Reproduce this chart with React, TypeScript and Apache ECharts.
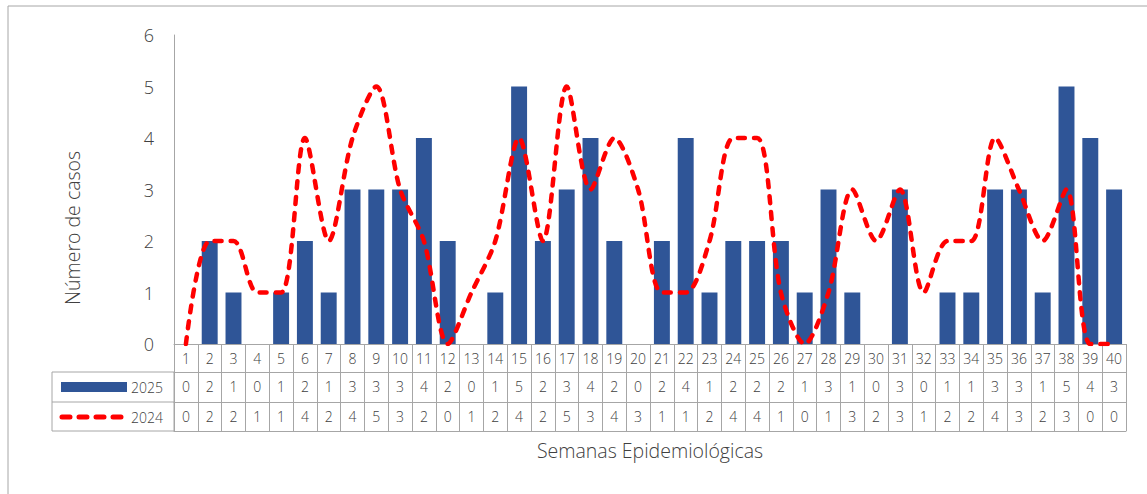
import React, { useEffect, useRef } from "react";
import * as echarts from "echarts";

const weeks: string[] = Array.from({ length: 40 }, (_, i) => String(i + 1));
const cases2025: number[] = [0, 2, 1, 0, 1, 2, 1, 3, 3, 3, 4, 2, 0, 1, 5, 2, 3, 4, 2, 0, 2, 4, 1, 2, 2, 2, 1, 3, 1, 0, 3, 0, 1, 1, 3, 3, 1, 5, 4, 3];
const cases2024: number[] = [0, 2, 2, 1, 1, 4, 2, 4, 5, 3, 2, 0, 1, 2, 4, 2, 5, 3, 4, 3, 1, 1, 2, 4, 4, 1, 0, 1, 3, 2, 3, 1, 2, 2, 4, 3, 2, 3, 0, 0];
const seriesNames = ["2025", "2024"];
const yTicks = { min: 0, max: 6, interval: 1 };

const FONT = "'Open Sans', 'Noto Sans', sans-serif";
const TXT = "#404040";
const GRID_LINE = "#A6A6A6";
const BAR = "#2F5597";
const LINE = "#FF0000";

export default function App() {
  const ref = useRef<HTMLDivElement>(null);
  useEffect(() => {
    if (!ref.current) return;
    const chart = echarts.init(ref.current, null, { renderer: "svg" });
    const label = (arr: number[] | null) => ({
      show: true,
      interval: 0,
      fontSize: 14,
      color: TXT,
      fontFamily: FONT,
      fontWeight: 300 as any,
      margin: 7,
      formatter: (v: string, i: number) => (arr ? String(arr[i]) : v),
    });
    chart.setOption({
      animation: false,
      textStyle: { fontFamily: FONT },
      grid: { left: 174, right: 21, top: 35, bottom: 150, containLabel: false },
      xAxis: [
        {
          type: "category",
          data: weeks,
          position: "bottom",
          axisLine: { show: true, lineStyle: { color: GRID_LINE, width: 1 } },
          axisTick: { show: true, interval: 0, length: 87, lineStyle: { color: GRID_LINE } },
          axisLabel: label(null),
          splitLine: { show: false },
        },
        {
          type: "category",
          data: weeks,
          position: "bottom",
          offset: 28,
          axisLine: { show: true, lineStyle: { color: GRID_LINE, width: 1 } },
          axisTick: { show: false },
          axisLabel: label(cases2025),
        },
        {
          type: "category",
          data: weeks,
          position: "bottom",
          offset: 58,
          axisLine: { show: true, lineStyle: { color: GRID_LINE, width: 1 } },
          axisTick: { show: false },
          axisLabel: label(cases2024),
        },
        {
          type: "category",
          data: weeks,
          position: "bottom",
          offset: 87,
          axisLine: { show: true, lineStyle: { color: GRID_LINE, width: 1 } },
          axisTick: { show: false },
          axisLabel: { show: false },
          name: "Semanas Epidemiológicas",
          nameLocation: "middle",
          nameGap: 9,
          nameTextStyle: { fontSize: 19.5, color: TXT, fontFamily: FONT, fontWeight: 300, verticalAlign: "top" },
        },
      ],
      yAxis: {
        type: "value",
        min: yTicks.min,
        max: yTicks.max,
        interval: yTicks.interval,
        axisLine: { show: true, lineStyle: { color: GRID_LINE, width: 1 } },
        axisTick: { show: false },
        splitLine: { show: false },
        axisLabel: { fontSize: 18, color: TXT, fontFamily: FONT, fontWeight: 300, margin: 20 },
      },
      graphic: [
        {
          type: "rect",
          shape: { x: 8, y: 6, width: 1200, height: 600 },
          style: { fill: "none", stroke: "#A6A6A6", lineWidth: 1 },
          silent: true,
          z: -1,
        },
        {
          type: "text",
          x: 72,
          y: 228,
          rotation: Math.PI / 2,
          style: { text: "Número de casos", fontSize: 19.5, fill: TXT, fontFamily: FONT, fontWeight: 300, align: "center", verticalAlign: "middle" },
          silent: true,
        },
        {
          type: "rect",
          shape: { x: 52, y: 372, width: 122, height: 59 },
          style: { fill: "none", stroke: GRID_LINE, lineWidth: 1 },
          silent: true,
        },
        {
          type: "line",
          shape: { x1: 52, y1: 402, x2: 174, y2: 402 },
          style: { stroke: GRID_LINE, lineWidth: 1 },
          silent: true,
        },
        {
          type: "rect",
          shape: { x: 61, y: 382, width: 66, height: 10 },
          style: { fill: BAR },
          silent: true,
        },
        {
          type: "line",
          shape: { x1: 62, y1: 417, x2: 124, y2: 417 },
          style: { stroke: LINE, lineWidth: 5, lineDash: [8, 9], lineCap: "round" },
          silent: true,
        },
        {
          type: "text",
          x: 131,
          y: 387,
          style: { text: seriesNames[0], fontSize: 14, fill: TXT, fontFamily: FONT, fontWeight: 300, verticalAlign: "middle", align: "left" },
          silent: true,
        },
        {
          type: "text",
          x: 131,
          y: 417,
          style: { text: seriesNames[1], fontSize: 14, fill: TXT, fontFamily: FONT, fontWeight: 300, verticalAlign: "middle", align: "left" },
          silent: true,
        },
      ],
      series: [
        {
          name: seriesNames[0],
          type: "bar",
          xAxisIndex: 0,
          data: cases2025,
          barCategoryGap: "33%",
          itemStyle: { color: BAR },
        },
        {
          name: seriesNames[1],
          type: "line",
          xAxisIndex: 0,
          data: cases2024,
          smooth: 0.3,
          symbol: "none",
          lineStyle: { color: LINE, width: 4.5, type: [7, 9], cap: "round" },
          itemStyle: { color: LINE },
          z: 3,
        },
      ],
    });
    return () => chart.dispose();
  }, []);
  return (
    <div
      ref={ref}
      style={{ position: "absolute", left: 0, top: 0, width: 1147, height: 494, background: "#fff" }}
    />
  );
}
